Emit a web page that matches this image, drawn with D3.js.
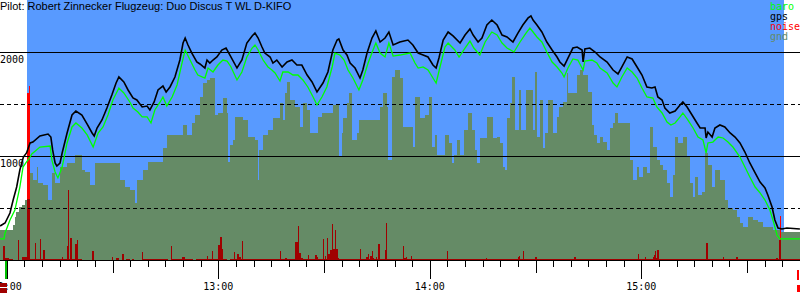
<!DOCTYPE html>
<html>
<head>
<meta charset="utf-8">
<script src="https://cdn.jsdelivr.net/npm/d3@7"></script>
<style>
  body { margin: 0; background: #fff; }
  svg { display: block; }
  .mono { font-family: "DejaVu Sans Mono", monospace; font-size: 10px; }
</style>
</head>
<body>
<script>
// flight data, time = minutes after 12:00, altitude in metres
var title = "Pilot: Robert Zinnecker Flugzeug: Duo Discus T WL D-KIFO";
var takeoff = 5.73, landing = 220.48;
var logStart = -0.2, logEnd = 224.6;

var gpsT = [-1.9,-0.5,0.9,1.8,2.8,3.7,4.7,5.6,6.6,7.4,9.4,11.7,12.5,13.0,13.7,14.2,15.1,15.7,17.1,18.5,19.6,21.3,22.8,24.2,24.8,25.6,27.0,28.4,29.8,31.0,31.8,33.2,34.4,35.8,36.9,38.4,39.8,40.6,41.8,42.9,44.3,45.2,46.3,47.7,49.1,50.0,50.6,51.4,52.5,53.9,54.8,56.2,56.8,57.6,58.5,59.6,61.0,62.2,63.3,65.3,66.7,68.1,69.6,70.4,71.3,72.4,73.2,74.7,75.5,76.6,78.1,79.5,80.9,82.3,83.7,85.2,86.6,88.0,89.7,91.1,92.5,93.7,94.2,95.4,96.5,97.4,98.8,100.2,101.0,102.2,103.6,104.7,105.9,107.3,108.4,109.6,111.5,113.8,115.2,116.7,118.1,119.5,120.9,121.8,122.6,123.8,125.2,126.6,128.6,130.0,131.4,132.3,133.7,134.8,136.2,137.6,139.1,140.5,141.9,143.6,145.0,146.4,147.9,148.7,149.3,150.4,151.8,153.2,154.7,156.1,156.9,158.1,159.2,160.6,161.8,163.2,163.5,164.0,165.4,166.9,168.3,170.3,172.0,173.4,174.5,176.0,177.4,178.8,180.2,181.6,183.0,183.9,184.7,185.9,186.7,188.1,189.6,191.0,191.8,193.0,194.4,195.8,196.7,198.1,198.4,198.9,200.1,200.9,202.3,203.7,205.2,206.6,208.0,209.4,210.8,212.3,213.7,215.1,215.9,217.1,217.9,218.8,219.9,221.3,225.0];
var gpsAlt = [330,358,454,579,704,867,992,1031,1127,1136,1194,1213,1184,1060,935,906,935,1031,1223,1396,1434,1396,1309,1223,1194,1271,1348,1463,1588,1703,1761,1713,1636,1559,1540,1473,1482,1444,1521,1636,1674,1617,1665,1761,1924,2087,2135,2068,1991,1905,1886,1847,1924,1895,1924,1953,2020,2039,1972,1847,1924,2087,2155,2183,2135,2049,1991,1953,1895,1924,1857,1905,1924,1876,1876,1780,1713,1617,1703,1809,2020,2116,2126,2020,1972,1895,1847,1751,1828,1991,2135,2203,2097,2135,2193,2068,2097,2116,2068,1991,1972,1953,1876,1847,1943,2116,2193,2155,2087,2164,2222,2164,2097,2135,2260,2308,2260,2164,2145,2097,2183,2260,2328,2347,2308,2260,2193,2097,2020,1953,1905,1866,1943,2039,2049,2020,1905,2030,2039,2001,1953,1905,1828,1790,1857,1953,1934,1857,1780,1665,1655,1665,1569,1540,1463,1415,1434,1492,1521,1473,1396,1319,1271,1271,1175,1232,1184,1271,1300,1281,1223,1184,1127,1040,935,839,752,695,627,512,387,310,301,310,301];

var baroT = [-1.9,-0.8,-0.5,0.9,2.3,3.7,4.6,5.4,6.6,7.1,9.4,12.3,12.8,13.7,14.5,15.7,17.1,18.5,19.6,21.3,22.8,24.5,25.9,27.3,28.7,30.1,31.8,33.2,34.9,35.8,37.2,38.4,39.8,40.9,42.0,43.5,44.3,45.4,46.9,48.3,49.7,50.6,52.0,53.4,54.2,56.2,57.1,58.5,59.9,61.3,62.5,63.6,65.3,66.7,68.1,69.6,70.4,71.3,72.7,74.1,75.2,76.1,77.5,78.3,79.8,81.2,82.6,84.0,85.4,86.9,88.0,89.4,90.8,92.3,93.1,94.5,95.7,96.8,98.2,99.9,101.0,102.5,103.9,104.7,105.9,107.3,108.4,109.6,111.5,114.4,115.8,116.7,118.1,119.5,120.9,121.8,122.9,124.3,125.2,127.1,128.3,130.0,131.4,132.5,134.2,135.7,137.6,139.1,140.5,141.9,143.9,145.6,147.3,148.4,149.3,150.4,151.8,153.2,154.7,156.1,157.5,158.1,159.2,160.6,162.0,163.5,164.0,166.0,167.4,168.3,170.3,172.0,173.1,174.5,176.0,177.4,178.8,180.2,181.6,183.3,184.4,185.9,187.3,188.4,189.6,191.0,191.8,193.2,194.7,196.1,197.5,198.4,198.9,200.3,201.8,203.2,204.6,206.0,208.0,209.4,210.8,212.3,213.7,215.1,216.5,217.6,218.5,219.3,225.0];
var baroAlt = [205,205,262,387,483,704,896,935,992,1021,1088,1098,963,848,791,896,1127,1281,1319,1271,1204,1088,1223,1281,1396,1540,1655,1607,1521,1463,1425,1377,1377,1319,1444,1521,1569,1482,1569,1684,1895,2020,1924,1828,1780,1751,1847,1809,1876,1924,1914,1857,1732,1809,1953,2039,2068,2020,1924,1857,1828,1799,1722,1809,1809,1780,1780,1732,1665,1569,1492,1569,1665,1857,1991,1972,1924,1828,1751,1636,1732,1895,2020,2087,1991,1953,2087,1962,1972,1991,1895,1847,1857,1828,1751,1703,1857,2049,2087,2020,1953,2039,2106,2039,1972,2097,2193,2164,2087,2039,2001,2097,2183,2231,2193,2145,2097,2001,1905,1857,1799,1761,1847,1934,1924,1828,1914,1924,1895,1847,1799,1703,1665,1761,1847,1809,1751,1655,1569,1559,1473,1415,1329,1300,1319,1377,1415,1348,1271,1184,1156,1031,1127,1136,1184,1175,1136,1088,992,896,800,704,647,579,483,358,243,205,205];

// terrain under the glider, each value holds until the next time
var gndT = [-1.9,1.8,2.3,2.6,3.5,4.3,5.2,6.6,7.4,8.6,8.9,10.3,11.7,12.8,13.7,15.1,17.1,19.4,21.3,22.2,23.6,25.0,32.1,33.5,35.0,36.4,36.9,38.6,40.1,44.3,45.5,50.0,51.1,52.5,53.4,54.8,55.7,56.8,57.6,59.1,59.9,61.3,62.5,62.8,63.3,64.2,64.7,67.0,68.4,70.4,71.3,71.5,72.7,74.1,75.5,77.5,78.4,78.9,79.5,80.3,81.8,83.2,84.0,85.2,86.0,88.3,89.4,92.5,94.2,95.1,95.4,96.5,97.1,97.9,99.3,99.9,105.9,106.7,107.9,108.1,109.3,110.1,111.6,112.4,115.2,115.8,117.2,118.6,119.8,120.6,121.5,122.0,124.3,125.5,126.3,126.9,127.7,128.6,129.7,130.8,132.0,132.8,133.4,134.2,136.2,137.9,139.1,139.9,140.8,141.3,141.9,142.8,143.3,144.2,145.3,145.9,147.3,149.3,149.8,150.4,151.3,152.1,152.7,153.5,155.0,156.1,156.7,157.8,158.9,159.2,161.8,162.6,163.5,164.9,166.0,166.6,167.4,168.3,169.1,170.3,171.1,172.0,172.5,173.4,176.8,177.6,178.8,179.3,180.5,181.6,182.5,183.3,184.5,185.3,186.2,187.3,188.1,189.0,189.6,190.4,191.8,193.0,193.8,194.7,195.2,196.1,197.2,198.1,198.9,200.1,200.9,202.3,203.7,204.6,206.0,207.1,208.0,208.9,210.3,211.7,213.1,214.5,217.4,219.4,225.03];
var gndAlt = [291,339,416,464,512,531,579,839,771,896,743,723,579,839,743,896,935,1011,867,848,723,935,771,704,675,550,771,867,944,1079,1204,1300,1204,1319,1396,1569,1703,1732,1751,1396,1415,1559,1415,944,1108,1156,1377,1348,1184,1156,771,1060,1204,1252,1367,1511,1348,1607,1713,1540,1473,1281,1511,1444,1223,1377,1415,1492,992,1223,1367,1511,1607,1156,1223,1348,1473,1607,1473,963,1761,1828,1751,1281,1088,1569,1367,1396,1569,1088,1204,1011,1204,1127,935,1011,1156,1011,1252,1415,1252,1060,935,1175,1377,1175,1184,1127,896,867,1367,1511,1761,1252,1636,1252,1636,1252,1809,1184,1540,1079,1223,1540,1223,1377,1473,1521,1799,1607,1780,1828,1780,1617,1300,1204,1127,1184,1136,1060,1271,1319,1415,1319,963,771,896,800,896,839,1281,1088,963,915,867,743,608,819,1184,1127,1184,992,743,608,800,627,656,1031,915,704,867,771,579,502,483,416,358,320,416,387,368,320,291,272,272];

// noise level 0..1000, step values
var noiseT = [-1.93,-1.08,-0.65,0.62,1.76,3.09,3.38,4.31,5.73,6.58,8.0,8.28,9.42,9.70,10.27,10.84,15.66,15.94,16.37,16.65,17.08,17.36,17.65,18.07,18.50,19.35,19.91,20.34,21.33,24.31,24.60,29.84,30.13,30.84,31.12,31.83,32.68,33.11,33.39,33.82,34.95,35.52,36.09,38.35,38.64,45.73,46.58,46.86,49.70,50.55,52.82,53.67,56.79,57.08,58.21,58.50,59.91,60.48,61.05,61.33,62.47,63.32,64.45,64.74,65.30,65.87,66.44,66.72,67.01,67.72,68.0,77.50,77.79,78.92,79.35,81.62,82.61,82.89,83.46,84.03,85.45,85.73,87.57,88.0,88.28,89.28,89.56,89.76,90.04,90.33,90.61,90.78,91.06,91.21,91.69,92.26,92.54,93.11,93.39,93.82,94.38,100.2,100.48,101.9,102.33,102.75,103.18,103.6,103.89,104.31,104.6,105.02,105.3,105.87,107.29,107.57,107.86,112.31,112.6,113.16,113.62,114.67,114.87,124.88,125.08,135.94,136.14,145.02,145.30,145.59,146.44,146.64,149.93,150.33,160.82,161.39,178.98,179.15,179.43,181.05,181.33,183.23,183.69,183.97,184.17,184.37,184.94,198.27,198.84,203.1,203.38,206.78,207.35,218.3,218.7,219.06,219.77,225.03];
var noiseV = [0,57,10,5,0,80,0,15,238,5,69,5,81,5,41,5,15,5,92,5,54,273,5,88,5,64,77,5,3,37,3,12,3,81,8,0,24,31,0,5,0,5,0,31,5,0,57,5,12,5,0,5,19,5,35,5,60,92,46,5,0,5,31,5,24,15,5,76,5,15,5,37,5,8,5,73,133,27,10,5,22,5,22,12,5,22,5,83,5,18,5,88,5,24,42,140,46,118,46,10,5,46,5,15,24,5,18,38,8,5,15,5,64,5,42,146,5,57,8,15,5,18,5,37,5,8,5,12,18,5,37,5,12,5,15,5,18,26,5,12,5,12,22,37,8,42,5,69,5,12,5,15,5,8,5,77,5,5];

// peaks above the noise bars (bright red)
var peakT0 = [5.73, 6.3, 219.35];
var peakT1 = [6.58, 6.58, 219.63];
var peakLo = [238, 238, 77];
var peakHi = [645, 672, 172];

var altLines = [500, 1000, 1500, 2000];
var altLabels = [1000, 2000];
var hourTicks = [0, 60, 120, 180];
var hourLabels = ["12:00", "13:00", "14:00", "15:00"];

var legendNames = ["baro", "gps", "noise", "gnd"];
var legendColors = ["#00ff00", "#000000", "#ff0000", "#658b66"];

var width = 800, height = 300;
var sky = "#589aff", ground = "#658b66", noiseCol = "#a00000";

var x = d3.scaleLinear().domain([-1.93, 225.03]).range([0, width]);
var y = d3.scaleLinear().domain([0, 1000]).range([260.3, 156.2]);
var yN = d3.scaleLinear().domain([0, 1000]).range([260.5, 0.5]);

var svg = d3.select("body").append("svg")
    .attr("width", width)
    .attr("height", height);

// sky while airborne
svg.append("rect")
    .attr("x", x(takeoff)).attr("y", 0)
    .attr("width", x(landing) - x(takeoff))
    .attr("height", y(0))
    .attr("fill", sky)
    .attr("shape-rendering", "crispEdges");

// ground
var gnd = d3.zip(gndT, gndAlt);
svg.append("path")
    .datum(gnd)
    .attr("d", d3.area().curve(d3.curveStepAfter)
        .x(function (d) { return x(d[0]) })
        .y0(y(0))
        .y1(function (d) { return y(d[1]) }))
    .attr("fill", ground)
    .attr("shape-rendering", "crispEdges");

// noise
var noise = d3.zip(noiseT, noiseV);
svg.append("path")
    .datum(noise)
    .attr("d", d3.area().curve(d3.curveStepAfter)
        .x(function (d) { return x(d[0]) })
        .y0(yN(0))
        .y1(function (d) { return yN(d[1]) }))
    .attr("fill", noiseCol)
    .attr("shape-rendering", "crispEdges");

svg.selectAll(".peak")
    .data(d3.range(peakT0.length))
    .enter().append("rect")
    .attr("class", "peak")
    .attr("x", function (i) { return x(peakT0[i]) })
    .attr("width", function (i) { return Math.max(1, x(peakT1[i]) - x(peakT0[i])) })
    .attr("y", function (i) { return yN(peakHi[i]) })
    .attr("height", function (i) { return yN(peakLo[i]) - yN(peakHi[i]) })
    .attr("fill", "#ff0000")
    .attr("shape-rendering", "crispEdges");

// altitude grid
svg.selectAll(".grid")
    .data(altLines)
    .enter().append("line")
    .attr("class", "grid")
    .attr("x1", 0).attr("x2", width)
    .attr("y1", function (d) { return Math.round(y(d)) + 0.5 })
    .attr("y2", function (d) { return Math.round(y(d)) + 0.5 })
    .attr("stroke", "#000")
    .attr("stroke-dasharray", function (d) { return d % 1000 ? "4,3" : null })
    .attr("shape-rendering", "crispEdges");

svg.selectAll(".altlabel")
    .data(altLabels)
    .enter().append("text")
    .attr("class", "mono")
    .attr("x", 0)
    .attr("y", function (d) { return y(d) + 10.5 })
    .text(function (d) { return d });

// traces
var line = d3.line()
    .x(function (d) { return x(d[0]) })
    .y(function (d) { return y(d[1]) });

svg.append("path")
    .datum(d3.zip(baroT, baroAlt))
    .attr("d", line)
    .attr("fill", "none")
    .attr("stroke", "#00ff00")
    .attr("stroke-width", 1.3);

svg.append("path")
    .datum(d3.zip(gpsT, gpsAlt))
    .attr("d", line)
    .attr("fill", "none")
    .attr("stroke", "#000")
    .attr("stroke-width", 1.6);

// time axis
var axis = svg.append("g").attr("shape-rendering", "crispEdges");
axis.append("line")
    .attr("x1", 0).attr("x2", width)
    .attr("y1", 260.5).attr("y2", 260.5)
    .attr("stroke", "#000");

axis.selectAll(".tick")
    .data(d3.range(0, 226, 5))
    .enter().append("line")
    .attr("x1", function (d) { return Math.round(x(d)) + 0.5 })
    .attr("x2", function (d) { return Math.round(x(d)) + 0.5 })
    .attr("y1", 261)
    .attr("y2", function (d) { return d % 60 == 0 ? 279 : (d % 30 == 0 ? 273 : 267) })
    .attr("stroke", "#000");

axis.selectAll(".hour")
    .data(hourTicks)
    .enter().append("text")
    .attr("class", "mono")
    .attr("x", function (d) { return x(d) })
    .attr("y", 289.5)
    .attr("text-anchor", "middle")
    .text(function (d, i) { return hourLabels[i] });

// log start / end markers
axis.append("rect")
    .attr("x", 0).attr("y", 283).attr("width", 7).attr("height", 10)
    .attr("fill", noiseCol);
axis.append("rect")
    .attr("x", 0).attr("y", 287).attr("width", 7).attr("height", 1)
    .attr("fill", "#fff");
axis.append("rect")
    .attr("x", x(logStart) - 1).attr("y", 261).attr("width", 2).attr("height", 18)
    .attr("fill", "#00c000");
axis.append("rect")
    .attr("x", x(logEnd) - 1).attr("y", 270).attr("width", 2).attr("height", 10)
    .attr("fill", "#ff0000");
axis.append("rect")
    .attr("x", x(logEnd) - 1).attr("y", 285).attr("width", 3).attr("height", 7)
    .attr("fill", "#ff0000");

// header
svg.append("text")
    .attr("x", 0).attr("y", 9.5)
    .style("font-family", "'Liberation Sans', Arial, sans-serif")
    .style("font-size", "11px")
    .text(title);

svg.selectAll(".legend")
    .data(legendNames)
    .enter().append("text")
    .attr("class", "mono")
    .attr("x", 770)
    .attr("y", function (d, i) { return 10 + i * 10 })
    .attr("fill", function (d, i) { return legendColors[i] })
    .text(function (d) { return d });
</script>
</body>
</html>
